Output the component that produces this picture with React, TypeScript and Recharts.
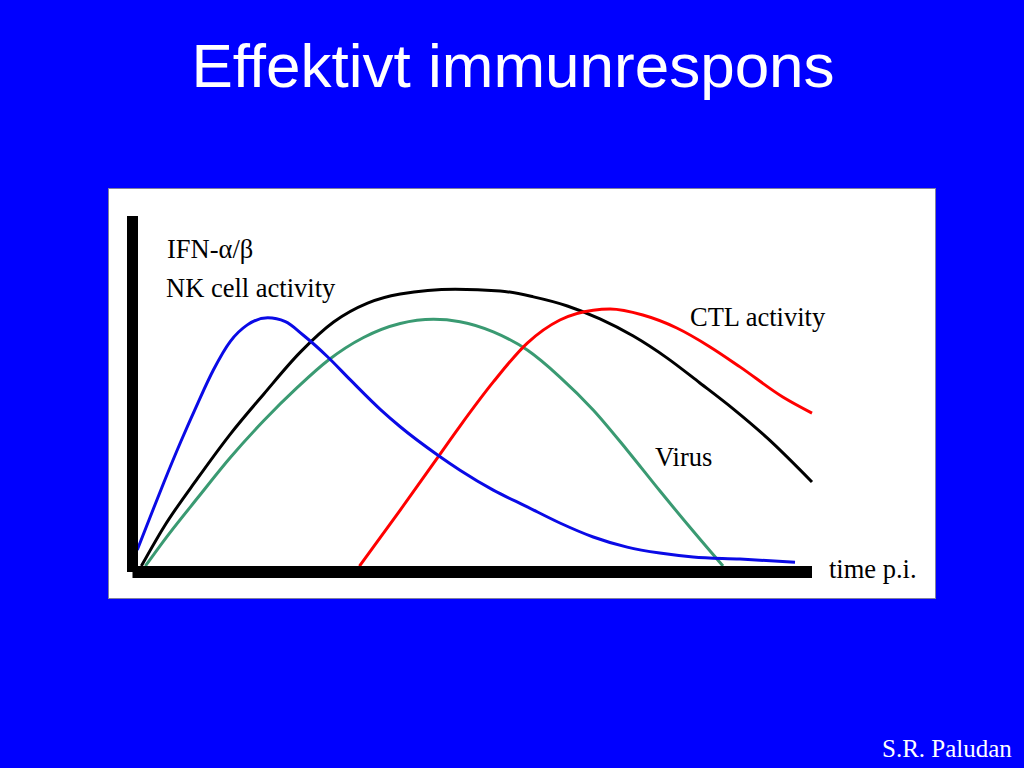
import React from "react";
import { LineChart, Line, XAxis, YAxis } from "recharts";

// time p.i. (0-100) vs relative level (0-100)
const nkTime = [0.7, 2.6, 4.6, 7.1, 9.6, 11.9, 14.4, 16.9, 19.9, 22.5, 25.1, 28.7, 32.1, 36.5, 39.4, 45.0, 48.2, 53.1, 58.1, 62.9, 67.8, 72.8, 77.6, 82.5, 89.4, 97.5];
const nkLevel = [4.6, 14.0, 23.8, 35.5, 46.5, 56.0, 64.2, 68.9, 70.9, 69.8, 66.0, 59.8, 53.1, 44.7, 39.8, 31.6, 27.4, 21.7, 16.9, 12.3, 8.3, 5.4, 3.7, 2.6, 2.0, 1.1];

const ifnTime = [1.3, 4.6, 9.6, 14.4, 19.3, 24.7, 29.6, 34.6, 39.4, 47.5, 54.1, 59.0, 64.0, 68.8, 73.7, 78.7, 83.5, 88.4, 93.4, 100];
const ifnLevel = [0, 11.1, 25.1, 37.7, 49.1, 61.1, 69.7, 75.1, 77.7, 79.1, 78.6, 76.9, 74.3, 70.6, 65.7, 59.4, 52.3, 44.9, 36.6, 24.0];

const virusTime = [1.9, 4.6, 9.6, 14.4, 19.3, 24.3, 28.8, 34.0, 39.4, 44.3, 48.2, 53.1, 58.1, 62.9, 67.8, 72.8, 77.6, 82.5, 86.9];
const virusLevel = [0, 7.2, 19.5, 31.0, 41.5, 51.1, 58.8, 65.3, 69.3, 70.5, 69.8, 66.9, 61.7, 54.0, 44.6, 33.1, 21.5, 10.0, 0];

const ctlTime = [33.4, 39.4, 44.9, 48.2, 53.1, 58.1, 62.9, 67.8, 70.3, 75.1, 80.1, 85.0, 89.4, 95.7, 100];
const ctlLevel = [0, 16.0, 31.0, 40.0, 52.6, 63.7, 70.3, 73.1, 73.4, 71.7, 68.0, 62.6, 56.9, 48.3, 43.7];

const zip = (t: number[], v: number[]) => t.map((x, i) => ({ t: x, v: v[i] }));

const BG = "#0000ff";
const serif = "'Liberation Serif', 'Times New Roman', serif";
const sans = "'Liberation Sans', Arial, sans-serif";

export default function App() {
  return (
    <div
      style={{
        position: "absolute",
        left: 0,
        top: 0,
        width: 1024,
        height: 768,
        background: BG,
        overflow: "hidden",
      }}
    >
      <div
        style={{
          position: "absolute",
          left: 108,
          top: 188,
          width: 826,
          height: 409,
          background: "#fff",
          border: "1px solid #8080a0",
        }}
      />
      <div style={{ position: "absolute", left: 0, top: 0 }}>
        <LineChart
          width={1024}
          height={768}
          margin={{ top: 216, right: 212, bottom: 186, left: 122.5 }}
        >
          <XAxis
            type="number"
            dataKey="t"
            domain={[0, 100]}
            height={10}
            tick={false}
            tickLine={false}
            axisLine={{ stroke: "#000", strokeWidth: 12 }}
          />
          <YAxis
            type="number"
            domain={[-1.7, 100]}
            width={10}
            tick={false}
            tickLine={false}
            axisLine={{ stroke: "#000", strokeWidth: 11 }}
          />
          <Line data={zip(ifnTime, ifnLevel)} dataKey="v" type="monotone" stroke="#000000" strokeWidth={3} dot={false} isAnimationActive={false} />
          <Line data={zip(virusTime, virusLevel)} dataKey="v" type="monotone" stroke="#3a9a72" strokeWidth={3} dot={false} isAnimationActive={false} />
          <Line data={zip(ctlTime, ctlLevel)} dataKey="v" type="monotone" stroke="#ff0000" strokeWidth={3} dot={false} isAnimationActive={false} />
          <Line data={zip(nkTime, nkLevel)} dataKey="v" type="monotone" stroke="#0a0ae6" strokeWidth={3} dot={false} isAnimationActive={false} />
        </LineChart>
      </div>
      <svg
        width={1024}
        height={768}
        style={{ position: "absolute", left: 0, top: 0, pointerEvents: "none" }}
      >
        <text x={513} y={87} textAnchor="middle" fill="#fff" fontFamily={sans} fontSize={62}>
          Effektivt immunrespons
        </text>
        <g fontFamily={serif} fontSize={26.5} fill="#000">
          <text x={167} y={258}>IFN-α/β</text>
          <text x={166} y={297}>NK cell activity</text>
          <text x={690} y={326}>CTL activity</text>
          <text x={655} y={466}>Virus</text>
          <text x={829} y={578}>time p.i.</text>
        </g>
        <text x={882} y={757} fill="#fff" fontFamily={serif} fontSize={25}>
          S.R. Paludan
        </text>
      </svg>
    </div>
  );
}
